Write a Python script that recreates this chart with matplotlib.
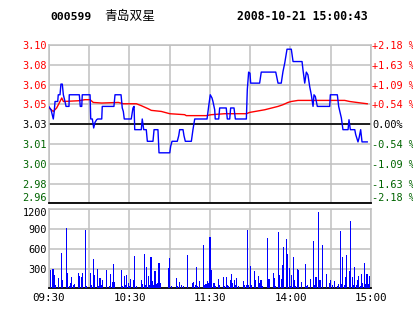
import matplotlib
matplotlib.use("Agg")
import matplotlib.pyplot as plt

# ---------------- data ----------------
code = "000599"
name = "青岛双星"
stamp = "2008-10-21 15:00:43"
prev_close = 3.03
step = 0.0165

left_labels = ["3.10", "3.08", "3.06", "3.05", "3.03", "3.01", "3.00", "2.98", "2.96"]
right_labels = ["+2.18 %", "+1.63 %", "+1.09 %", "+0.54 %", "0.00%", "-0.54 %", "-1.09 %", "-1.63 %", "-2.18 %"]
time_labels = ["09:30", "10:30", "11:30", "14:00", "15:00"]
time_ticks = [0, 60, 120, 180, 240]
vol_ticks = [300, 600, 900, 1200]

price_time = [0, 1.5, 3.2, 3.9, 4.5, 6.5, 6.9, 8.2, 8.9, 9.9,
              10.7, 11.9, 12.7, 14.9, 15.1, 22.6, 23.3, 24.4, 24.8, 30.6,
              31.1, 32.3, 33.3, 34.3, 35.5, 36.3, 39.3, 39.7, 48.4, 49.2,
              53.7, 54.6, 55.4, 56.1, 61.3, 62.6, 63.4, 63.9, 68.8, 69.5,
              70.6, 72.5, 73.3, 77.5, 78.3, 81.2, 82.0, 90.0, 90.7, 91.7,
              95.6, 96.7, 97.4, 99.9, 100.6, 101.6, 106.1, 107.3, 108.6, 117.8,
              119.0, 120.2, 121.5, 122.2, 123.5, 123.9, 126.5, 127.2, 132.1, 132.9,
              134.7, 135.4, 137.9, 138.9, 147.1, 147.8, 148.8, 149.8, 150.3, 157.0,
              158.2, 169.0, 170.7, 173.1, 174.4, 175.7, 177.4, 180.6, 181.9, 188.6,
              189.3, 190.6, 191.8, 193.0, 194.3, 195.5, 196.8, 197.5, 198.5, 200.0,
              209.2, 209.7, 214.9, 215.9, 217.9, 219.1, 222.9, 223.6, 224.6, 227.9,
              228.6, 230.3, 231.1, 232.3, 233.3, 237.2]
price_values = [3.0445, 3.0420, 3.0343, 3.0406, 3.0489, 3.0489, 3.0545, 3.0545, 3.0634, 3.0634,
                3.0545, 3.0489, 3.0448, 3.0448, 3.0545, 3.0545, 3.0448, 3.0448, 3.0545, 3.0545,
                3.0343, 3.0343, 3.0268, 3.0315, 3.0337, 3.0343, 3.0343, 3.0448, 3.0448, 3.0545,
                3.0545, 3.0435, 3.0406, 3.0343, 3.0343, 3.0435, 3.0448, 3.0254, 3.0254, 3.0343,
                3.0254, 3.0254, 3.0157, 3.0157, 3.0254, 3.0254, 3.0061, 3.0061, 3.0116, 3.0157,
                3.0157, 3.0204, 3.0254, 3.0254, 3.0204, 3.0157, 3.0157, 3.0254, 3.0343, 3.0343,
                3.0448, 3.0545, 3.0518, 3.0489, 3.0420, 3.0343, 3.0343, 3.0435, 3.0435, 3.0343,
                3.0343, 3.0435, 3.0435, 3.0343, 3.0343, 3.0587, 3.0734, 3.0725, 3.0642, 3.0642,
                3.0734, 3.0734, 3.0642, 3.0642, 3.0739, 3.0809, 3.0925, 3.0925, 3.0822, 3.0822,
                3.0753, 3.0642, 3.0734, 3.0711, 3.0614, 3.0545, 3.0448, 3.0545, 3.0531, 3.0448,
                3.0448, 3.0545, 3.0545, 3.0448, 3.0352, 3.0254, 3.0254, 3.0337, 3.0254, 3.0254,
                3.0213, 3.0152, 3.0185, 3.0254, 3.0152, 3.0152]

avg_time = [0, 3.2, 5.7, 8.2, 9.5, 10.7, 21.8, 26.8, 30.6, 33.0,
            39.3, 51.7, 55.4, 65.1, 68.8, 73.8, 76.2, 83.7, 90.0, 101.1,
            102.3, 117.2, 121.0, 131.0, 147.1, 149.6, 160.8, 170.7, 174.4, 178.1,
            180.6, 185.6, 220.4, 224.1, 232.8, 237.2]
avg_values = [3.0435, 3.0406, 3.0435, 3.0489, 3.0518, 3.0489, 3.0495, 3.0504, 3.0504, 3.0481,
              3.0476, 3.0481, 3.0470, 3.0470, 3.0454, 3.0429, 3.0415, 3.0406, 3.0387, 3.0379,
              3.0371, 3.0371, 3.0379, 3.0387, 3.0387, 3.0398, 3.0420, 3.0448, 3.0462, 3.0481,
              3.0489, 3.0498, 3.0498, 3.0489, 3.0476, 3.0470]

vol_time = [1, 3, 4, 5, 7, 9, 10, 13, 14, 15, 16, 17, 18, 19, 22, 23, 24, 25, 27, 28,
            31, 32, 33, 34, 36, 37, 38, 39, 40, 43, 45, 46, 47, 48, 49, 54, 55, 56, 57, 58,
            59, 60, 61, 63, 64, 65, 69, 70, 71, 72, 73, 74, 75, 76, 77, 78, 79, 80, 81, 82,
            83, 89, 90, 91, 95, 96, 97, 99, 100, 103, 107, 108, 109, 110, 111, 112, 115, 116, 117, 118,
            119, 120, 121, 123, 124, 126, 127, 130, 131, 132, 133, 134, 135, 136, 137, 138, 139, 140, 141, 145,
            146, 147, 148, 149, 150, 151, 153, 154, 156, 157, 158, 159, 163, 164, 167, 168, 169, 171, 172, 173,
            174, 175, 177, 178, 179, 180, 181, 182, 183, 184, 185, 186, 188, 191, 192, 193, 195, 197, 198, 199,
            201, 202, 204, 207, 209, 210, 211, 213, 215, 216, 217, 218, 219, 220, 221, 222, 224, 225, 226, 227,
            228, 229, 230, 231, 232, 233, 234, 235, 236, 237, 238, 239]
vol_values = [277, 292, 200, 50, 161, 539, 126, 912, 227, 40, 75, 171, 50, 65, 232, 192, 176, 232, 882, 35,
              232, 50, 444, 200, 292, 35, 156, 50, 126, 277, 35, 212, 91, 368, 96, 277, 35, 186, 50, 200,
              75, 35, 141, 126, 489, 35, 126, 65, 519, 50, 323, 192, 50, 474, 111, 50, 262, 65, 80, 383,
              80, 307, 459, 35, 156, 35, 96, 50, 35, 504, 80, 96, 50, 323, 35, 111, 655, 50, 65, 111,
              80, 776, 277, 80, 35, 141, 50, 171, 35, 171, 50, 35, 126, 217, 80, 126, 50, 156, 35, 111,
              50, 50, 882, 50, 338, 50, 262, 126, 186, 80, 126, 35, 761, 141, 232, 156, 35, 852, 200, 141,
              353, 625, 746, 519, 307, 35, 200, 474, 126, 35, 292, 277, 96, 368, 35, 50, 141, 716, 50, 171,
              1154, 126, 655, 217, 80, 126, 50, 111, 35, 65, 867, 65, 474, 50, 171, 504, 262, 1018, 171, 50,
              323, 50, 126, 186, 35, 217, 80, 383, 65, 217, 65, 186]

# ---------------- style ----------------
W, H = 414, 314
GRID = "#C0C0C0"
RED = "#FF0000"
GREEN = "#006400"
BLUE = "#0000FF"
MONO = "DejaVu Sans Mono"
FS = 7.4

fig = plt.figure(figsize=(W / 100, H / 100), dpi=100)
fig.patch.set_facecolor("white")

def fx(px):
    return px / W

def fy(py):
    return 1 - py / H

label_colors = [RED] * 4 + ["black"] + [GREEN] * 4

# main price panel
L, R = 49, 371
ax = fig.add_axes([fx(L), fy(203.3), fx(R - L), (203.3 - 45) / H])
levels = [prev_close + k * step for k in range(4, -5, -1)]
ax.set_xlim(0, 240)
ax.set_ylim(prev_close - 4 * step, prev_close + 4 * step)
ax.set_xticks(range(0, 241, 30))
ax.set_xticklabels([])
ax.set_yticks(levels)
ax.set_yticklabels(left_labels[:-1] + [""])
ax.tick_params(axis="both", length=0)
ax.tick_params(axis="y", pad=1.5)
for t, c in zip(ax.get_yticklabels(), label_colors):
    t.set_color(c)
    t.set_fontfamily(MONO)
    t.set_fontsize(FS)
ax.grid(True, color=GRID, lw=1.1)
for s in ["top", "left", "right"]:
    ax.spines[s].set_color(GRID)
    ax.spines[s].set_linewidth(1.1)
ax.spines["bottom"].set_color("black")
ax.spines["bottom"].set_linewidth(1.3)
ax.axhline(prev_close, color="black", lw=1.2, zorder=2)
ax.plot(avg_time, avg_values, color=RED, lw=1.0, zorder=3)
ax.plot(price_time, price_values, color=BLUE, lw=1.0, zorder=4)
# bottom edge labels sit slightly above their line
ax.annotate(left_labels[-1], xy=(0, levels[-1]), xycoords=("axes fraction", "data"),
            xytext=(-1.5, 3.5), textcoords="offset points", ha="right", va="center",
            color=GREEN, fontfamily=MONO, fontsize=FS)
ax.annotate(right_labels[-1], xy=(1, levels[-1]), xycoords=("axes fraction", "data"),
            xytext=(0.8, 3.5), textcoords="offset points", ha="left", va="center",
            color=GREEN, fontfamily=MONO, fontsize=FS)

ax2 = ax.twinx()
ax2.set_ylim(ax.get_ylim())
ax2.set_yticks(levels)
ax2.set_yticklabels(right_labels[:-1] + [""])
ax2.tick_params(axis="y", length=0, pad=0.8)
for t, c in zip(ax2.get_yticklabels(), label_colors):
    t.set_color(c)
    t.set_fontfamily(MONO)
    t.set_fontsize(FS)
for s in ax2.spines.values():
    s.set_visible(False)

# volume panel
axv = fig.add_axes([fx(L), fy(288.3), fx(R - L), (288.3 - 209.3) / H])
axv.bar(vol_time, vol_values, width=0.8, color=BLUE, antialiased=False, zorder=3)
axv.set_xlim(0, 240)
axv.set_ylim(0, 1200)
axv.set_yticks(vol_ticks)
axv.set_yticklabels([str(v) for v in vol_ticks[:-1]] + [""])
axv.set_xticks(range(0, 241, 30))
axv.set_xticklabels([""] * 9)
axv.tick_params(axis="both", length=0)
axv.tick_params(axis="y", pad=1.5)
for t in axv.get_yticklabels():
    t.set_fontfamily(MONO)
    t.set_fontsize(FS)
axv.annotate(str(vol_ticks[-1]), xy=(0, vol_ticks[-1]), xycoords=("axes fraction", "data"),
             xytext=(-1.5, -3.0), textcoords="offset points", ha="right", va="center",
             color="black", fontfamily=MONO, fontsize=FS)
axv.grid(True, color=GRID, lw=1.1, zorder=0)
axv.set_axisbelow(True)
for s in ["top", "left", "right"]:
    axv.spines[s].set_color(GRID)
    axv.spines[s].set_linewidth(1.1)
axv.spines["bottom"].set_color("black")
axv.spines["bottom"].set_linewidth(1.3)
for tpos, lab in zip(time_ticks, time_labels):
    axv.text(tpos, -0.12, lab, transform=axv.get_xaxis_transform(), ha="center", va="center",
             fontfamily=MONO, fontsize=FS + 0.4)

# header
fig.text(fx(50), fy(16.5), code, ha="left", va="center", fontfamily=MONO, fontsize=8.2, fontweight="bold")
fig.text(fx(104), fy(16.5), name, ha="left", va="center", fontfamily=["Noto Sans CJK SC", "DejaVu Sans"], fontsize=9.2)
fig.text(fx(237), fy(16.5), stamp, ha="left", va="center", fontfamily=MONO, fontsize=8.3, fontweight="bold")

fig.savefig("out.png", dpi=100, facecolor="white")
